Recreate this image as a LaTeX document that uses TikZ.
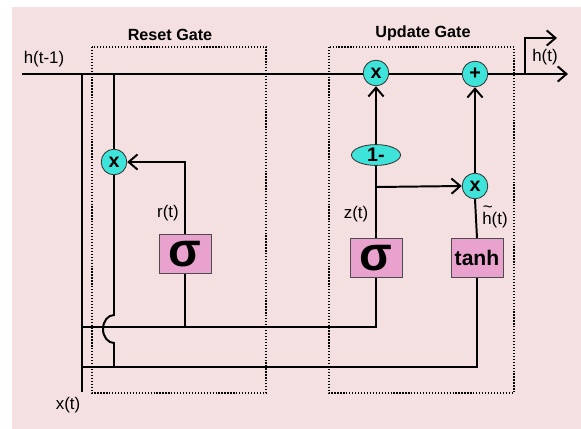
\documentclass[tikz,border=0pt]{standalone}
\usepackage{fontspec}
\setmainfont{Liberation Sans}
\usepackage{xcolor}
\usepackage{tikz}
\usetikzlibrary{positioning,arrows.meta,shapes.geometric}
\definecolor{bgpink}{RGB}{244,223,225}
\definecolor{opcyan}{RGB}{62,228,218}
\definecolor{gatepink}{RGB}{233,162,206}
\newcommand{\tildeh}{\makebox[0pt][l]{\raisebox{0.68em}{\kern0.3pt\textasciitilde}}h}

\begin{document}
\begin{tikzpicture}[
x=0.025cm,y=-0.025cm,
wire/.style={line width=1.4pt},
arrow/.style={wire,-{Straight Barb[length=2.2mm,width=3.8mm]}},
op/.style={
circle,draw=black!80,line width=0.6pt,fill=opcyan,
minimum size=0.64cm,inner sep=0pt,
font=\bfseries\fontsize{14}{14}\selectfont
},
onebox/.style={
ellipse,draw=black!80,line width=0.6pt,fill=opcyan,
minimum width=1.225cm,minimum height=0.52cm,inner sep=0pt,
font=\bfseries\fontsize{14}{14}\selectfont
},
gbox/.style={
rectangle,draw=black!70,line width=0.6pt,fill=gatepink,
minimum width=1.3cm,minimum height=0.98cm,inner sep=0pt
},
sigfont/.style={font=\bfseries\fontsize{34}{34}\selectfont},
region/.style={draw,line width=0.9pt,dash pattern=on 0.9pt off 1.2pt},
title/.style={font=\bfseries\fontsize{11.5}{12}\selectfont},
lbl/.style={font=\fontsize{12}{13}\selectfont,inner sep=0pt}
]

\useasboundingbox (0,0) rectangle (581,429);
\fill[bgpink] (12,7) rectangle (581,429);

\draw[region] (92,47) rectangle (266,393);
\draw[region] (329,47) rectangle (514,393);

\node[title] (resettitle) at (170,35) {Reset Gate};
\node[title] (updatetitle) at (423,33) {Update Gate};

\node[op] (rmul) at (114,162) {x};
\node[op] (umul) at (376,73) {x};
\node[op] (plus) at (475,74) {+};
\node[op] (hmul) at (475,186) {x};
\node[onebox] (onem) at (376,155) {1-};
\node[gbox,sigfont] (rsig) at (185,254) {σ};
\node[gbox,sigfont] (zsig) at (376,258) {σ};
\node[gbox,font=\bfseries\fontsize{15}{15}\selectfont] (tanh) at (477,258) {tanh};

\node[lbl] (hprev) at (44,59) {h(t-1)};
\node[lbl] (rlbl) at (168,213) {r(t)};
\node[lbl] (zlbl) at (356,214) {z(t)};
\node[lbl] (hcand) at (495,217) {\tildeh(t)};
\node[lbl] (hnext) at (545,57) {h(t)};
\node[lbl] (xin) at (68,405) {x(t)};

\coordinate (hin) at (22,74);
\coordinate (hout) at (568,74);
\coordinate (tap) at (525,74);
\coordinate (hup) at (557,38);
\coordinate (xtop) at (82,74);
\coordinate (xbot) at (82,392);
\coordinate (rtop) at (114,74);
\coordinate (hop) at (114,315);
\coordinate (bus1) at (82,327);
\coordinate (bus2) at (82,367);
\coordinate (zfork) at (376,187);

\draw[wire] (hin) -- (umul.west |- hin);
\draw[wire] (umul.east |- hin) -- (plus.west);
\draw[arrow] (plus.east) -- (hout);
\draw[arrow] (tap) |- (hup);

\draw[wire] (xtop) -- (xbot);
\draw[wire] (rtop) -- (rmul.north);
\draw[wire] (rmul.south) -- (hop) arc[start angle=90,end angle=270,x radius=0.275cm,y radius=0.35cm] -- (rmul |- bus2);
\draw[wire] (bus1) -| (zsig.south);
\draw[wire] (rsig.south) -- (rsig.south |- bus1);
\draw[wire] (bus2) -| (tanh.south);

\draw[arrow] (rsig.north) |- (rmul.east);
\draw[wire] (zsig.north) -- (onem.south);
\draw[arrow] (onem.north) -- (umul.south);
\draw[arrow] (zfork) -- (hmul.west);
\draw[wire] (tanh.north) -- (hmul.south);
\draw[arrow] (hmul.north) -- (plus.south);

\end{tikzpicture}
\end{document}
